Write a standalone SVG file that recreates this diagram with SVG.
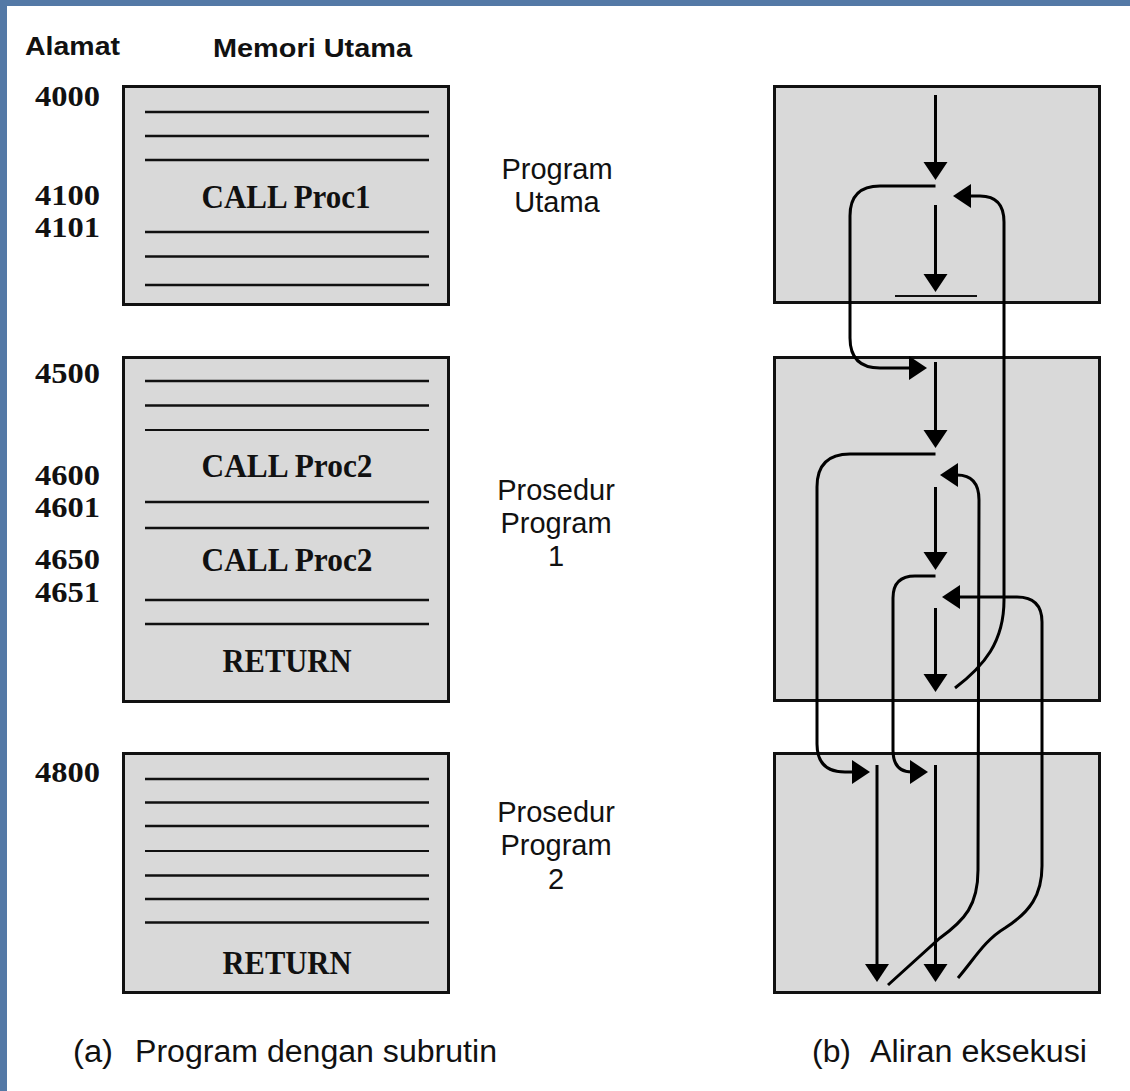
<svg xmlns="http://www.w3.org/2000/svg" width="1130" height="1091" viewBox="0 0 1130 1091">
<defs>
<marker id="ah" markerUnits="userSpaceOnUse" markerWidth="20" markerHeight="24" refX="2" refY="12" orient="auto" overflow="visible">
<path d="M0,0 L18,12 L0,24 z" fill="#000"/>
</marker>
</defs>
<style>
.box{fill:#d9d9d9;stroke:#111;stroke-width:3}
.ln{stroke:#111;stroke-width:2.6}
.lt{stroke:#111;stroke-width:1.8}
.addr{font-family:"Liberation Serif",serif;font-weight:bold;font-size:30px;fill:#111}
.ins{font-family:"Liberation Serif",serif;font-weight:bold;font-size:33px;fill:#111;text-anchor:middle}
.hdr{font-family:"Liberation Sans",Arial,sans-serif;font-weight:bold;font-size:26px;fill:#111}
.lbl{font-family:"Liberation Sans",Arial,sans-serif;font-size:29px;fill:#111;text-anchor:middle}
.cap{font-family:"Liberation Sans",Arial,sans-serif;font-size:31px;fill:#111}
.fl{fill:none;stroke:#000;stroke-width:3}
</style>
<rect x="0" y="0" width="1130" height="1091" fill="#fff"/>
<rect x="0" y="0" width="1130" height="6" fill="#5479a6"/>
<rect x="0" y="0" width="7" height="1091" fill="#5479a6"/>

<text class="hdr" x="25" y="55" textLength="95" lengthAdjust="spacingAndGlyphs">Alamat</text>
<text class="hdr" x="213" y="57" textLength="199" lengthAdjust="spacingAndGlyphs">Memori Utama</text>

<g id="mem-main">
<rect class="box" x="123.5" y="86.5" width="325" height="218"/>
<line class="ln" x1="145" y1="112" x2="429" y2="112"/>
<line class="ln" x1="145" y1="136" x2="429" y2="136"/>
<line class="ln" x1="145" y1="160" x2="429" y2="160"/>
<line class="ln" x1="145" y1="232" x2="429" y2="232"/>
<line class="ln" x1="145" y1="256.5" x2="429" y2="256.5"/>
<line class="ln" x1="145" y1="285" x2="429" y2="285"/>
<text class="ins" x="286" y="208" textLength="169" lengthAdjust="spacingAndGlyphs">CALL Proc1</text>
<text class="addr" x="35" y="106" textLength="65" lengthAdjust="spacingAndGlyphs">4000</text>
<text class="addr" x="35" y="205" textLength="65" lengthAdjust="spacingAndGlyphs">4100</text>
<text class="addr" x="35" y="236.5" textLength="65" lengthAdjust="spacingAndGlyphs">4101</text>
</g>

<g id="mem-proc1">
<rect class="box" x="123.5" y="357.5" width="325" height="344"/>
<line class="ln" x1="145" y1="381" x2="429" y2="381"/>
<line class="ln" x1="145" y1="405.5" x2="429" y2="405.5"/>
<line class="lt" x1="145" y1="430" x2="429" y2="430"/>
<line class="ln" x1="145" y1="502" x2="429" y2="502"/>
<line class="ln" x1="145" y1="528" x2="429" y2="528"/>
<line class="ln" x1="145" y1="600" x2="429" y2="600"/>
<line class="ln" x1="145" y1="624" x2="429" y2="624"/>
<text class="ins" x="287" y="477" textLength="171" lengthAdjust="spacingAndGlyphs">CALL Proc2</text>
<text class="ins" x="287" y="571" textLength="171" lengthAdjust="spacingAndGlyphs">CALL Proc2</text>
<text class="ins" x="287" y="672" textLength="129" lengthAdjust="spacingAndGlyphs">RETURN</text>
<text class="addr" x="35" y="383" textLength="65" lengthAdjust="spacingAndGlyphs">4500</text>
<text class="addr" x="35" y="485" textLength="65" lengthAdjust="spacingAndGlyphs">4600</text>
<text class="addr" x="35" y="516.5" textLength="65" lengthAdjust="spacingAndGlyphs">4601</text>
<text class="addr" x="35" y="569" textLength="65" lengthAdjust="spacingAndGlyphs">4650</text>
<text class="addr" x="35" y="601.5" textLength="65" lengthAdjust="spacingAndGlyphs">4651</text>
</g>

<g id="mem-proc2">
<rect class="box" x="123.5" y="753.5" width="325" height="239"/>
<line class="ln" x1="145" y1="779" x2="429" y2="779"/>
<line class="ln" x1="145" y1="802.5" x2="429" y2="802.5"/>
<line class="ln" x1="145" y1="826" x2="429" y2="826"/>
<line class="lt" x1="145" y1="851" x2="429" y2="851"/>
<line class="ln" x1="145" y1="875.5" x2="429" y2="875.5"/>
<line class="ln" x1="145" y1="899" x2="429" y2="899"/>
<line class="ln" x1="145" y1="922.5" x2="429" y2="922.5"/>
<text class="ins" x="287" y="974" textLength="129" lengthAdjust="spacingAndGlyphs">RETURN</text>
<text class="addr" x="35" y="781.5" textLength="65" lengthAdjust="spacingAndGlyphs">4800</text>
</g>

<g id="label-main">
<text class="lbl" x="557" y="179">Program</text>
<text class="lbl" x="557" y="212">Utama</text>
</g>
<g id="label-proc1">
<text class="lbl" x="556" y="500">Prosedur</text>
<text class="lbl" x="556" y="533">Program</text>
<text class="lbl" x="556" y="566">1</text>
</g>
<g id="label-proc2">
<text class="lbl" x="556" y="822">Prosedur</text>
<text class="lbl" x="556" y="855">Program</text>
<text class="lbl" x="556" y="889">2</text>
</g>

<g id="flow-main">
<rect class="box" x="774.5" y="86.5" width="325" height="216"/>
<line x1="895" y1="296" x2="977" y2="296" stroke="#111" stroke-width="2"/>
</g>
<g id="flow-proc1">
<rect class="box" x="774.5" y="357.5" width="325" height="343"/>
</g>
<g id="flow-proc2">
<rect class="box" x="774.5" y="753.5" width="325" height="239"/>
</g>

<g id="connectors" class="fl" fill="none" stroke="#000" stroke-width="3">
<line x1="935.5" y1="95" x2="935.5" y2="164" marker-end="url(#ah)"/>
<line x1="935.5" y1="205" x2="935.5" y2="276" marker-end="url(#ah)"/>
<path d="M935.5 186 L880 186 Q850 186 850 216 L850 338 Q850 368 880 368 L911 368" marker-end="url(#ah)"/>
<path d="M955 688 C984 666 1004 642 1004 600 L1004 222 Q1004 196 980 196 L969 196" marker-end="url(#ah)"/>
<line x1="935.5" y1="362" x2="935.5" y2="432" marker-end="url(#ah)"/>
<path d="M935.5 454 L850 454 Q817 454 817 487 L817 744 Q817 772 845 772 L854 772" marker-end="url(#ah)"/>
<path d="M888 985 L940 938 C965 920 978 905 978 870 L979 500 Q979 475 957 475 L956 475" marker-end="url(#ah)"/>
<line x1="935.5" y1="487" x2="935.5" y2="554" marker-end="url(#ah)"/>
<path d="M935.5 576 L915 576 Q893 576 893 598 L893 750 Q893 772 912 772" marker-end="url(#ah)"/>
<path d="M958 978 C975 958 985 940 1005 928 C1030 912 1042 895 1042 866 L1042 622 Q1042 597 1017 597 L958 597" marker-end="url(#ah)"/>
<line x1="935.5" y1="608" x2="935.5" y2="676" marker-end="url(#ah)"/>
<line x1="877" y1="765" x2="877" y2="966" marker-end="url(#ah)"/>
<line x1="935.5" y1="765" x2="935.5" y2="966" marker-end="url(#ah)"/>
</g>

<text class="cap" x="73" y="1062" textLength="40" lengthAdjust="spacingAndGlyphs">(a)</text>
<text class="cap" x="135" y="1062" textLength="362" lengthAdjust="spacingAndGlyphs">Program dengan subrutin</text>
<text class="cap" x="812" y="1062" textLength="39" lengthAdjust="spacingAndGlyphs">(b)</text>
<text class="cap" x="870" y="1062" textLength="217" lengthAdjust="spacingAndGlyphs">Aliran eksekusi</text>
</svg>
